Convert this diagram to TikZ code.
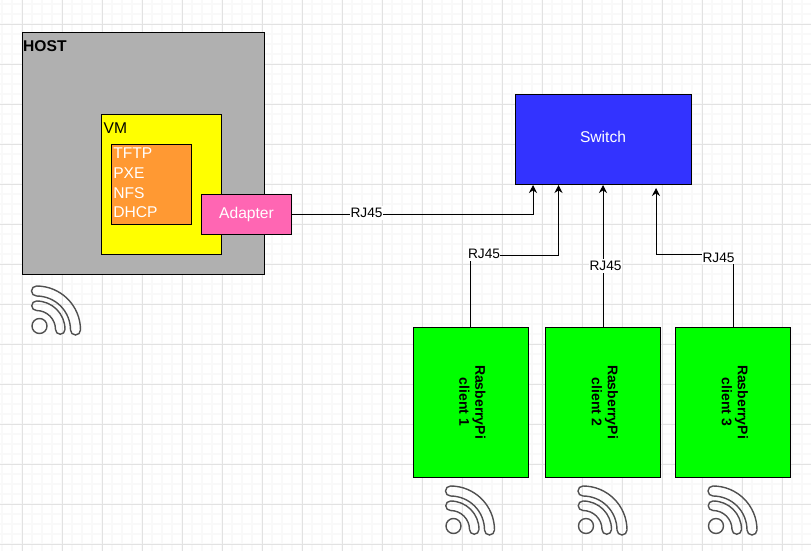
\documentclass[tikz,border=0pt]{standalone}
\usepackage{fontspec}
\setmainfont{Liberation Sans}
\usetikzlibrary{arrows.meta, positioning, calc}
\definecolor{hostgray}{HTML}{B0B0B0}
\definecolor{vmyellow}{HTML}{FFFF00}
\definecolor{svcorange}{HTML}{FF9933}
\definecolor{adapterpink}{HTML}{FF66B3}
\definecolor{switchblue}{HTML}{3333FF}
\definecolor{clientgreen}{HTML}{00FF00}
\definecolor{gridminor}{HTML}{F9F9F9}
\definecolor{gridmajor}{HTML}{E2E2E2}
\definecolor{icongray}{HTML}{505050}
\newcommand{\clienttext}[1]{\rotatebox{-90}{\begin{tabular}{@{}c@{}}RasberryPi\\client #1\end{tabular}}}

\begin{document}
\begin{tikzpicture}[
    x=1pt, y=-1pt,
    block/.style={draw, line width=1pt, font=\fontsize{15.6}{19.6}\selectfont, align=center, inner sep=0pt},
    client/.style={block, fill=clientgreen, minimum width=115pt, minimum height=150pt, font=\fontsize{14}{16}\selectfont\bfseries},
    boxlabel/.style={font=\fontsize{15.6}{19}\selectfont, inner sep=0pt},
    wire/.style={line width=1pt},
    data/.style={wire, -{Stealth[length=8pt, width=8pt]}},
    rjlabel/.style={fill=white, font=\fontsize{13.7}{16}\selectfont, inner xsep=0.5pt, inner ysep=2pt},
    wifi/.pic={
        \draw[icongray, line width=1.4pt] (0,0) circle[radius=7.5];
        \draw[icongray, line width=1.4pt] (-3,-40) arc[start angle=-90, end angle=0, radius=44]
            arc[start angle=0, end angle=180, radius=5]
            arc[start angle=0, end angle=-90, radius=34]
            arc[start angle=90, end angle=270, radius=5] -- cycle;
        \draw[icongray, line width=1.4pt] (-3,-25) arc[start angle=-90, end angle=0, radius=28.5]
            arc[start angle=0, end angle=180, radius=4.75]
            arc[start angle=0, end angle=-90, radius=19]
            arc[start angle=90, end angle=270, radius=4.75] -- cycle;
    },
]
    \useasboundingbox (0,0) rectangle (811,551);

    % Grid
    \foreach \gx in {2,12,...,810} \draw[gridminor, line width=1.5pt] (\gx,0) -- (\gx,551);
    \foreach \gy in {4,14,...,550} \draw[gridminor, line width=1.5pt] (0,\gy) -- (811,\gy);
    \foreach \gx in {22,62,...,806} \draw[gridmajor, line width=0.8pt] (\gx,0) -- (\gx,551);
    \foreach \gy in {24,64,...,550} \draw[gridmajor, line width=0.8pt] (0,\gy) -- (811,\gy);

    % Host
    \node[block, fill=hostgray, minimum width=242pt, minimum height=242pt] (host) at (143,153.3) {};
    \node[boxlabel, font=\fontsize{15.6}{19}\selectfont\bfseries, anchor=west] (hostlabel) at (23,46) {HOST};

    % VM
    \node[block, fill=vmyellow, minimum width=120pt, minimum height=140pt] (vm) at (161.5,184) {};
    \node[boxlabel, anchor=west] (vmlabel) at (103.5,128) {VM};
    \node[block, fill=svcorange, text=white, minimum width=80pt, minimum height=80pt, text width=76.5pt, align=left] (services) at (151.5,184) {TFTP\\PXE\\NFS\\DHCP\rule[-2pt]{0pt}{2pt}};
    \node[block, fill=adapterpink, text=white, minimum width=90pt, minimum height=40pt] (adapter) at (246.5,214.5) {Adapter};

    % Switch
    \node[block, fill=switchblue, text=white, minimum width=176pt, minimum height=90pt, text depth=4pt] (switch) at (603,139) {Switch};
    \coordinate (porta) at (533,185);
    \coordinate (portb) at (558.5,185);
    \coordinate (portc) at (603,185);
    \coordinate (portd) at (656,188);

    % Clients
    \node[client] (client1) at (470.5,402) {\clienttext{1}};
    \node[client] (client2) at (603,402) {\clienttext{2}};
    \node[client] (client3) at (733,402) {\clienttext{3}};

    % Flows
    \draw[data] (adapter.east) -| (porta);
    \draw[data] (client1.north) |- (520,255.5) -| (portb);
    \draw[data] (client2.north) -- (portc);
    \draw[data] (client3.north) |- (690,254.5) -| (portd);

    % Labels
    \node[rjlabel] (rja) at (366.5,213) {RJ45};
    \node[rjlabel] (rjb) at (484,254) {RJ45};
    \node[rjlabel] (rjc) at (605.5,266) {RJ45};
    \node[rjlabel] (rjd) at (718.5,257.5) {RJ45};

    % Icons
    \pic at (39.5,326) {wifi};
    \pic at (453.5,526) {wifi};
    \pic at (586,526) {wifi};
    \pic at (716,526) {wifi};
\end{tikzpicture}
\end{document}
